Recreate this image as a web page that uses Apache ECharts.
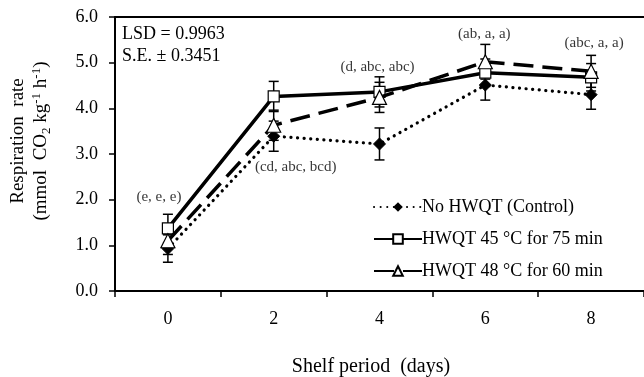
<!DOCTYPE html>
<html>
<head>
<meta charset="utf-8">
<script src="https://cdn.jsdelivr.net/npm/echarts@6/dist/echarts.min.js"></script>
<style>
  html, body { margin: 0; padding: 0; background: #fff; }
  #chart { width: 644px; height: 377px; }
</style>
</head>
<body>
<div id="chart"></div>
<script>
var days = ['0', '2', '4', '6', '8'];

var controlMean = [0.93, 3.39, 3.22, 4.51, 4.30];
var controlErr = [0.30, 0.33, 0.35, 0.33, 0.32];

var hw45Mean = [1.37, 4.26, 4.36, 4.78, 4.68];
var hw45Err = [0.31, 0.33, 0.33, 0.30, 0.30];

var hw48Mean = [1.10, 3.63, 4.24, 5.02, 4.81];
var hw48Err = [0.30, 0.33, 0.33, 0.38, 0.35];

var letters = ['(e, e, e)', '(cd, abc, bcd)', '(d, abc, abc)', '(ab, a, a)', '(abc, a, a)'];

var yTicks = [0, 1, 2, 3, 4, 5, 6];

var serif = '"Liberation Serif", "Times New Roman", serif';

// where the letter groups sit (value on y, pixel shift on x)
var letterY = [2.06, 2.71, 4.90, 5.62, 5.42];
var letterDx = [-9, 22, -2, -1, 3];

function errorSeries(mean, err) {
    return {
        type: 'custom',
        z: 1,
        silent: true,
        data: mean.map(function (m, i) { return [i, m - err[i], m + err[i]]; }),
        renderItem: function (params, api) {
            var lo = api.coord([api.value(0), api.value(1)]);
            var hi = api.coord([api.value(0), api.value(2)]);
            var w = 5;
            var st = { stroke: '#000', lineWidth: 1.5 };
            return {
                type: 'group',
                children: [
                    { type: 'line', shape: { x1: lo[0], y1: lo[1], x2: hi[0], y2: hi[1] }, style: st },
                    { type: 'line', shape: { x1: lo[0] - w, y1: lo[1], x2: lo[0] + w, y2: lo[1] }, style: st },
                    { type: 'line', shape: { x1: hi[0] - w, y1: hi[1], x2: hi[0] + w, y2: hi[1] }, style: st }
                ]
            };
        }
    };
}

var chart = echarts.init(document.getElementById('chart'));

chart.setOption({
    animation: false,
    textStyle: { fontFamily: serif, color: '#000' },
    grid: { left: 115, right: 0, top: 17, bottom: 86, containLabel: false, outerBoundsMode: 'none' },
    legend: {
        orient: 'vertical',
        left: 368,
        top: 193,
        itemGap: 14,
        itemWidth: 48,
        itemHeight: 12,
        textStyle: { fontFamily: serif, fontSize: 18, color: '#000', padding: [0, 0, 0, -5] },
        data: ['No HWQT (Control)', 'HWQT 45 °C for 75 min', 'HWQT 48 °C for 60 min']
    },
    graphic: [
        {
            type: 'text', left: 122, top: 23,
            style: { text: 'LSD = 0.9963\nS.E. ± 0.3451', font: '18px ' + serif, fill: '#000', lineHeight: 22 }
        }
    ],
    xAxis: [
        {
            type: 'category',
            data: days,
            name: 'Shelf period  (days)',
            nameLocation: 'middle',
            nameGap: 66,
            nameTextStyle: { fontFamily: serif, fontSize: 20, color: '#000', padding: [0, 17, 0, 0] },
            axisLine: { lineStyle: { color: '#000', width: 2 } },
            axisTick: { show: true, length: 6, lineStyle: { color: '#000', width: 1.5 } },
            axisLabel: { fontFamily: serif, fontSize: 18, color: '#000', margin: 19 },
            splitLine: { show: false }
        },
        {
            type: 'category',
            data: days,
            position: 'top',
            axisLine: { lineStyle: { color: '#000', width: 2 } },
            axisTick: { show: false },
            axisLabel: { show: false },
            splitLine: { show: false }
        }
    ],
    yAxis: {
        type: 'value',
        min: 0,
        max: 6,
        interval: 1,
        name: '{a|Respiration  rate}\n{a|(mmol  CO}{sub|2}{a| kg}{sup|-1}{a| h}{sup|-1}{a|)}',
        nameLocation: 'middle',
        nameGap: 62,
        nameRotate: 90,
        nameTextStyle: {
            fontFamily: serif, fontSize: 19, color: '#000', lineHeight: 23,
            padding: [0, 0, 0, 26],
            rich: {
                a: { fontFamily: serif, fontSize: 19, color: '#000' },
                sub: { fontFamily: serif, fontSize: 13, color: '#000', verticalAlign: 'bottom', padding: [7, 0, 0, 0] },
                sup: { fontFamily: serif, fontSize: 13, color: '#000', verticalAlign: 'top', padding: [0, 0, 7, 0] }
            }
        },
        axisLine: { show: true, lineStyle: { color: '#000', width: 2 } },
        axisTick: { show: true, length: 6, lineStyle: { color: '#000', width: 1.5 } },
        axisLabel: {
            fontFamily: serif, fontSize: 18, color: '#000', margin: 17,
            formatter: function (v) { return yTicks.indexOf(v) >= 0 ? v.toFixed(1) : ''; }
        },
        splitLine: { show: false }
    },
    series: [
        errorSeries(controlMean, controlErr),
        errorSeries(hw45Mean, hw45Err),
        errorSeries(hw48Mean, hw48Err),
        {
            name: 'No HWQT (Control)',
            type: 'line',
            z: 3,
            data: controlMean,
            symbol: 'diamond',
            symbolSize: 12,
            itemStyle: { color: '#000', borderColor: '#000' },
            lineStyle: { color: '#000', width: 3.2, type: [0.1, 6.5], cap: 'round' }
        },
        {
            name: 'HWQT 45 °C for 75 min',
            type: 'line',
            z: 4,
            data: hw45Mean,
            symbol: 'rect',
            symbolSize: 11,
            itemStyle: { color: '#fff', borderColor: '#000', borderWidth: 1.2 },
            lineStyle: { color: '#000', width: 3.5 }
        },
        {
            name: 'HWQT 48 °C for 60 min',
            type: 'line',
            z: 5,
            data: hw48Mean,
            symbol: 'triangle',
            symbolSize: 14,
            itemStyle: { color: '#fff', borderColor: '#000', borderWidth: 1.2 },
            lineStyle: { color: '#000', width: 3.5, type: [20, 9] }
        },
        {
            type: 'scatter',
            silent: true,
            symbolSize: 0,
            z: 6,
            data: letters.map(function (t, i) {
                return {
                    value: [i, letterY[i]],
                    label: { offset: [letterDx[i], 0] }
                };
            }),
            label: {
                show: true,
                position: 'inside',
                fontFamily: serif,
                fontSize: 15,
                color: '#000',
                formatter: function (p) { return letters[p.dataIndex]; }
            }
        }
    ]
});
</script>
</body>
</html>
